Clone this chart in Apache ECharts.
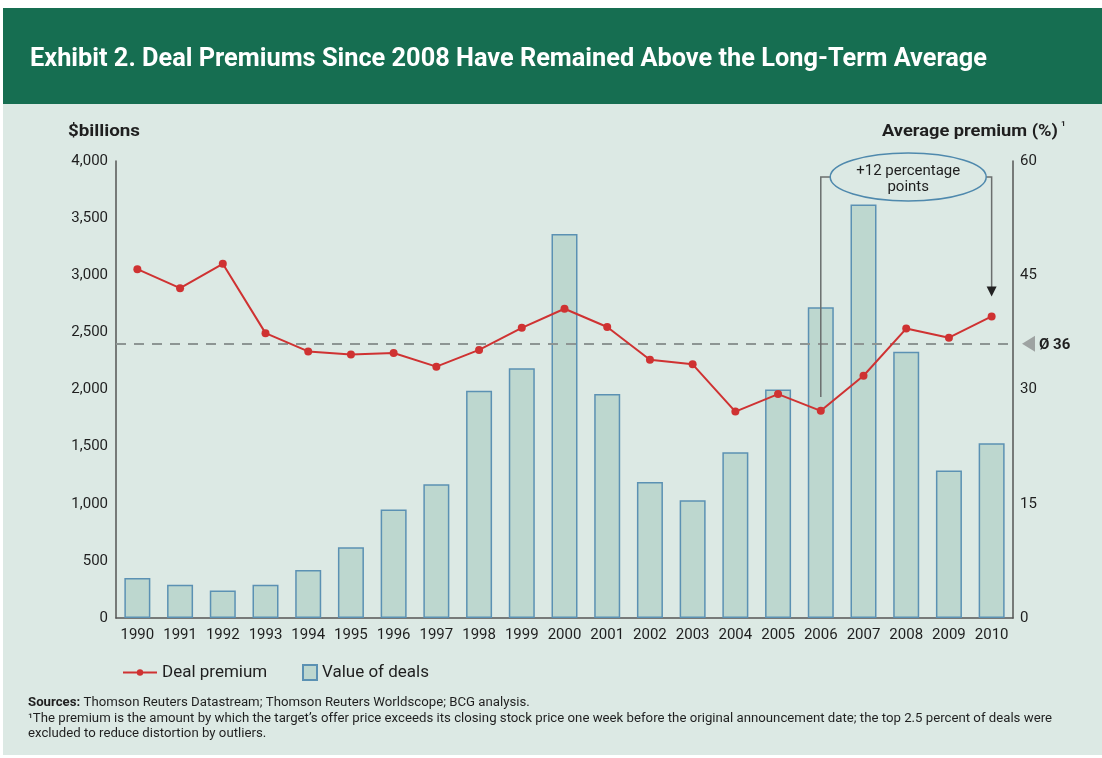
<!DOCTYPE html>
<html><head><meta charset="utf-8">
<script src="https://cdn.jsdelivr.net/npm/echarts@6/dist/echarts.min.js"></script>
<style>html,body{margin:0;padding:0;background:#fff}#c{width:1102px;height:758px}</style>
</head><body><div id="c"></div>
<script>
// ---- data ----
const years = ['1990','1991','1992','1993','1994','1995','1996','1997','1998','1999','2000','2001','2002','2003','2004','2005','2006','2007','2008','2009','2010'];
const dealValues = [350, 290, 240, 290, 420, 620, 950, 1170, 1990, 2185, 3360, 1960, 1190, 1030, 1450, 2000, 2720, 3620, 2330, 1290, 1530];
const premiums = [45.8, 43.3, 46.5, 37.4, 35.0, 34.6, 34.8, 33.0, 35.2, 38.1, 40.6, 38.2, 33.9, 33.3, 27.1, 29.4, 27.2, 31.8, 38.0, 36.8, 39.6];
const longTermAverage = 36;
const annotationYears = ['2006', '2010'];
const annotationText = '+12 percentage\npoints';
const titleText = 'Exhibit 2. Deal Premiums Since 2008 Have Remained Above the Long-Term Average';
const leftAxisName = '$billions';
const rightAxisName = 'Average premium (%)';
const footerLines = [
  'Thomson Reuters Datastream; Thomson Reuters Worldscope; BCG analysis.',
  'The premium is the amount by which the target\u2019s offer price exceeds its closing stock price one week before the original announcement date; the top 2.5 percent of deals were',
  'excluded to reduce distortion by outliers.'
];

const FONT = 'Roboto, "Noto Sans", sans-serif';
const DARK = '#1f1f1f';

function measure(text, font) {
  const c = document.createElement('canvas').getContext('2d');
  c.font = font;
  return c.measureText(text).width;
}
const titleScale = 957 / measure(titleText, 'bold 25px Roboto');
const footScale = 1024 / measure('\u00b9' + footerLines[1], '12px Roboto');
const leftNameScale = 72 / measure(leftAxisName, 'bold 16px Roboto');
const rightNameScale = 176 / measure(rightAxisName, 'bold 16px Roboto');

const chart = echarts.init(document.getElementById('c'), null, {renderer: 'canvas'});

const option = {
  animation: false,
  backgroundColor: '#ffffff',
  textStyle: {fontFamily: FONT},
  grid: {left: 116, right: 89, top: 161, bottom: 140},
  legend: [
    {data: ['Deal premium'], left: 117, top: 659, itemWidth: 34, itemHeight: 8, itemGap: 8,
     textStyle: {fontSize: 17, color: DARK, fontFamily: FONT}},
    {data: [{name: 'Value of deals', icon: 'rect'}], left: 297, top: 659, itemWidth: 14, itemHeight: 15,
     textStyle: {fontSize: 17, color: DARK, fontFamily: FONT}}
  ],
  xAxis: {
    type: 'category', data: years,
    axisLine: {show: true, lineStyle: {color: '#555', width: 1.5}},
    axisTick: {show: false},
    axisLabel: {fontSize: 15, color: DARK, margin: 10, interval: 0}
  },
  yAxis: [
    {type: 'value', min: 0, max: 4000, interval: 500, position: 'left',
     axisLine: {show: true, lineStyle: {color: '#555', width: 1.5}},
     axisTick: {show: false}, splitLine: {show: false},
     axisLabel: {fontSize: 15, color: DARK, margin: 8,
       formatter: v => v.toLocaleString('en-US')}},
    {type: 'value', min: 0, max: 60, interval: 15, position: 'right',
     axisLine: {show: true, lineStyle: {color: '#555', width: 1.5}},
     axisTick: {show: false}, splitLine: {show: false},
     axisLabel: {fontSize: 15, color: DARK, margin: 7}}
  ],
  series: [
    {name: 'Value of deals', type: 'bar', yAxisIndex: 0, data: dealValues, barWidth: 26,
     itemStyle: {color: '#bdd7cf', borderColor: '#5b91b3', borderWidth: 1.5}, z: 2},
    {name: 'Deal premium', type: 'line', yAxisIndex: 1, data: premiums,
     symbol: 'circle', symbolSize: 8,
     lineStyle: {color: '#cf3232', width: 2}, itemStyle: {color: '#cf3232'}, z: 4,
     markLine: {silent: true, symbol: 'none', label: {show: false},
       lineStyle: {color: '#8d9593', type: [10, 8], width: 2},
       data: [{yAxis: longTermAverage}], z: 3}}
  ]
};
chart.setOption(option);

const px = (cat, v) => chart.convertToPixel({seriesIndex: 1}, [cat, v]);
const gridRight = 1102 - 89;
const avgY = px(years[0], longTermAverage)[1];
const a0 = px(annotationYears[0], 29);
const a1 = px(annotationYears[1], 42.2);
const topY = px(years[0], 57.9)[1];
const cx = (a0[0] + a1[0]) / 2 + 2;
const rx = 78, ry = 24;

chart.setOption({
  graphic: [
    {type: 'rect', z: -10, silent: true, shape: {x: 3, y: 8, width: 1099, height: 747}, style: {fill: '#dce9e4'}},
    {type: 'rect', z: -9, silent: true, shape: {x: 3, y: 8, width: 1099, height: 96}, style: {fill: '#166e51'}},
    {type: 'text', x: 30, y: 60, scaleX: titleScale, style: {text: titleText, fill: '#ffffff',
      font: 'bold 25px Roboto', textVerticalAlign: 'middle', textAlign: 'left'}},
    {type: 'text', x: 68, y: 132, scaleX: leftNameScale, style: {text: leftAxisName, fill: DARK, font: 'bold 16px Roboto', textVerticalAlign: 'middle'}},
    {type: 'text', x: 1058, y: 132, scaleX: rightNameScale, style: {text: rightAxisName, fill: DARK, font: 'bold 16px Roboto', textVerticalAlign: 'middle', textAlign: 'right'}},
    {type: 'text', x: 1061, y: 124, style: {text: '1', fill: DARK, font: 'bold 8px ' + FONT, textVerticalAlign: 'middle'}},
    // average marker
    {type: 'polygon', z: 50, shape: {points: [[gridRight + 9, avgY], [gridRight + 22, avgY - 8], [gridRight + 22, avgY + 8]]}, style: {fill: '#9ea3a2'}},
    {type: 'text', z: 50, x: gridRight + 26, y: avgY + 1, style: {text: '\u00d8 ' + longTermAverage, fill: DARK, font: 'bold 15px ' + FONT, textVerticalAlign: 'middle'}},
    // annotation bracket
    {type: 'polyline', z: 50, shape: {points: [[a0[0], a0[1]], [a0[0], topY], [cx - rx + 1, topY]]}, style: {stroke: '#6b6f6e', lineWidth: 1.5, fill: null}},
    {type: 'polyline', z: 50, shape: {points: [[cx + rx - 1, topY], [a1[0], topY], [a1[0], a1[1] - 8]]}, style: {stroke: '#6b6f6e', lineWidth: 1.5, fill: null}},
    {type: 'polygon', z: 50, shape: {points: [[a1[0], a1[1]], [a1[0] - 5, a1[1] - 10], [a1[0] + 5, a1[1] - 10]]}, style: {fill: '#222'}},
    {type: 'ellipse', z: 51, shape: {cx: cx, cy: topY, rx: rx, ry: ry}, style: {fill: '#dce9e4', stroke: '#4f89ad', lineWidth: 1.5}},
    {type: 'text', z: 52, x: cx, y: topY + 2, style: {text: annotationText, fill: DARK, font: '15px ' + FONT, textAlign: 'center', textVerticalAlign: 'middle', lineHeight: 16}},
    // footer
    {type: 'text', x: 28, y: 703, scaleX: footScale, style: {
      text: '{b|Sources:} ' + footerLines[0], textVerticalAlign: 'middle',
      rich: {b: {font: 'bold 12px Roboto', fill: DARK}}, font: '12px Roboto', fill: DARK}},
    {type: 'text', x: 28, y: 719, scaleX: footScale, style: {text: '\u00b9' + footerLines[1], font: '12px Roboto', fill: DARK, textVerticalAlign: 'middle'}},
    {type: 'text', x: 28, y: 734, scaleX: footScale, style: {text: footerLines[2], font: '12px Roboto', fill: DARK, textVerticalAlign: 'middle'}}
  ]
});
</script></body></html>
